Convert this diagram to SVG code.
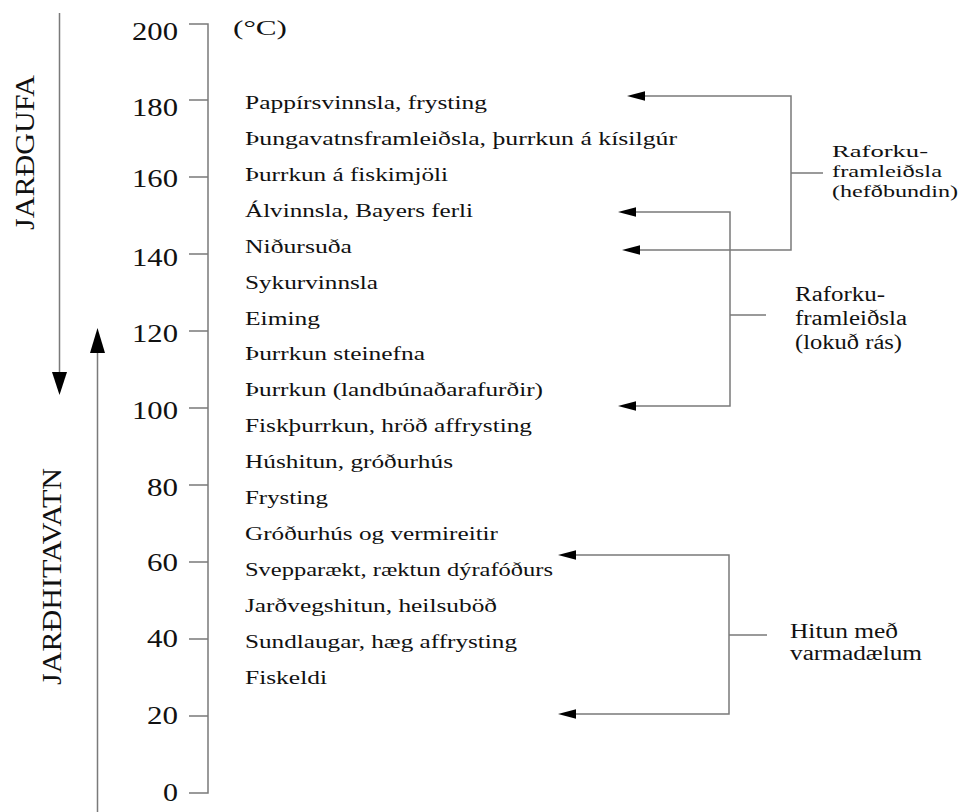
<svg xmlns="http://www.w3.org/2000/svg" width="963" height="812" viewBox="0 0 963 812">
<style>
.t{font-family:"Liberation Serif","Times New Roman",serif;fill:#111;}
.num{font-size:25px;text-anchor:end;}
.lst{font-size:19px;}
.lbl{font-size:20px;}
.lbs{font-size:17px;}
.big{font-size:28px;}
.ln{stroke:#7a7a7a;stroke-width:1.5;fill:none;}
.hd{fill:#000;}
</style>
<defs>
<polygon id="ahL" points="0,0 18,-4.8 18,4.8"/>
</defs>
<rect width="963" height="812" fill="#fff"/>

<g id="axis">
<path class="ln" d="M189 24 H208 V793 H189 M189 100 H208 M189 177 H208 M189 254 H208 M189 331 H208 M189 408 H208 M189 485 H208 M189 562 H208 M189 639 H208 M189 716 H208"/>
<text class="t num" x="178" y="40" textLength="46" lengthAdjust="spacingAndGlyphs">200</text>
<text class="t num" x="178" y="116" textLength="46" lengthAdjust="spacingAndGlyphs">180</text>
<text class="t num" x="178" y="187" textLength="46" lengthAdjust="spacingAndGlyphs">160</text>
<text class="t num" x="178" y="266" textLength="46" lengthAdjust="spacingAndGlyphs">140</text>
<text class="t num" x="178" y="342" textLength="46" lengthAdjust="spacingAndGlyphs">120</text>
<text class="t num" x="178" y="419" textLength="46" lengthAdjust="spacingAndGlyphs">100</text>
<text class="t num" x="178" y="496" textLength="31" lengthAdjust="spacingAndGlyphs">80</text>
<text class="t num" x="178" y="571" textLength="31" lengthAdjust="spacingAndGlyphs">60</text>
<text class="t num" x="178" y="647" textLength="31" lengthAdjust="spacingAndGlyphs">40</text>
<text class="t num" x="178" y="724" textLength="31" lengthAdjust="spacingAndGlyphs">20</text>
<text class="t num" x="178" y="801" textLength="15" lengthAdjust="spacingAndGlyphs">0</text>
<text class="t" x="233" y="35" font-size="22" textLength="54" lengthAdjust="spacingAndGlyphs">(°C)</text>
</g>

<g id="jardgufa">
<path class="ln" d="M59.5 13 V374"/>
<polygon class="hd" points="52,372 67,372 59.5,395"/>
<text class="t big" transform="translate(34,230) rotate(-90)" textLength="155" lengthAdjust="spacingAndGlyphs">JARÐGUFA</text>
</g>

<g id="jardhitavatn">
<path class="ln" d="M97.5 812 V351"/>
<polygon class="hd" points="90,353 105,353 97.5,328"/>
<text class="t big" transform="translate(61,685) rotate(-90)" textLength="217" lengthAdjust="spacingAndGlyphs">JARÐHITAVATN</text>
</g>

<g id="uses">
<text class="t lst" x="245" y="109" textLength="242" lengthAdjust="spacingAndGlyphs">Pappírsvinnsla, frysting</text>
<text class="t lst" x="245" y="145" textLength="432" lengthAdjust="spacingAndGlyphs">Þungavatnsframleiðsla, þurrkun á kísilgúr</text>
<text class="t lst" x="245" y="181" textLength="203" lengthAdjust="spacingAndGlyphs">Þurrkun á fiskimjöli</text>
<text class="t lst" x="245" y="217" textLength="228" lengthAdjust="spacingAndGlyphs">Álvinnsla, Bayers ferli</text>
<text class="t lst" x="245" y="253" textLength="107" lengthAdjust="spacingAndGlyphs">Niðursuða</text>
<text class="t lst" x="245" y="289" textLength="133" lengthAdjust="spacingAndGlyphs">Sykurvinnsla</text>
<text class="t lst" x="245" y="325" textLength="75" lengthAdjust="spacingAndGlyphs">Eiming</text>
<text class="t lst" x="245" y="360" textLength="180" lengthAdjust="spacingAndGlyphs">Þurrkun steinefna</text>
<text class="t lst" x="245" y="396" textLength="298" lengthAdjust="spacingAndGlyphs">Þurrkun (landbúnaðarafurðir)</text>
<text class="t lst" x="245" y="432" textLength="287" lengthAdjust="spacingAndGlyphs">Fiskþurrkun, hröð affrysting</text>
<text class="t lst" x="245" y="468" textLength="208" lengthAdjust="spacingAndGlyphs">Húshitun, gróðurhús</text>
<text class="t lst" x="245" y="504" textLength="83" lengthAdjust="spacingAndGlyphs">Frysting</text>
<text class="t lst" x="245" y="540" textLength="253" lengthAdjust="spacingAndGlyphs">Gróðurhús og vermireitir</text>
<text class="t lst" x="245" y="576" textLength="308" lengthAdjust="spacingAndGlyphs">Svepparækt, ræktun dýrafóðurs</text>
<text class="t lst" x="245" y="612" textLength="252" lengthAdjust="spacingAndGlyphs">Jarðvegshitun, heilsuböð</text>
<text class="t lst" x="245" y="648" textLength="272" lengthAdjust="spacingAndGlyphs">Sundlaugar, hæg affrysting</text>
<text class="t lst" x="245" y="684" textLength="82" lengthAdjust="spacingAndGlyphs">Fiskeldi</text>
</g>

<g id="connectors">
<path class="ln" d="M644 96 H791 V250 H640 M791 173 H823"/>
<use href="#ahL" class="hd" x="627" y="96"/>
<use href="#ahL" class="hd" x="622" y="250"/>
<path class="ln" d="M634 212 H730 V406 H634 M730 315 H766"/>
<use href="#ahL" class="hd" x="618" y="212"/>
<use href="#ahL" class="hd" x="618" y="406"/>
<path class="ln" d="M574 555 H729 V714 H574 M729 635 H767"/>
<use href="#ahL" class="hd" x="558" y="555"/>
<use href="#ahL" class="hd" x="558" y="714"/>
</g>

<g id="label-hefdbundin">
<text class="t lbs" x="832" y="157" textLength="96" lengthAdjust="spacingAndGlyphs">Raforku-</text>
<text class="t lbs" x="832" y="177" textLength="110" lengthAdjust="spacingAndGlyphs">framleiðsla</text>
<text class="t lbs" x="832" y="197" textLength="126" lengthAdjust="spacingAndGlyphs">(hefðbundin)</text>
</g>

<g id="label-lokud">
<text class="t lbl" x="795" y="301" textLength="90" lengthAdjust="spacingAndGlyphs">Raforku-</text>
<text class="t lbl" x="795" y="325" textLength="112" lengthAdjust="spacingAndGlyphs">framleiðsla</text>
<text class="t lbl" x="795" y="349" textLength="107" lengthAdjust="spacingAndGlyphs">(lokuð rás)</text>
</g>

<g id="label-varmadaelur">
<text class="t lbl" x="790" y="638" textLength="108" lengthAdjust="spacingAndGlyphs">Hitun með</text>
<text class="t lbl" x="790" y="660" textLength="132" lengthAdjust="spacingAndGlyphs">varmadælum</text>
</g>
</svg>
